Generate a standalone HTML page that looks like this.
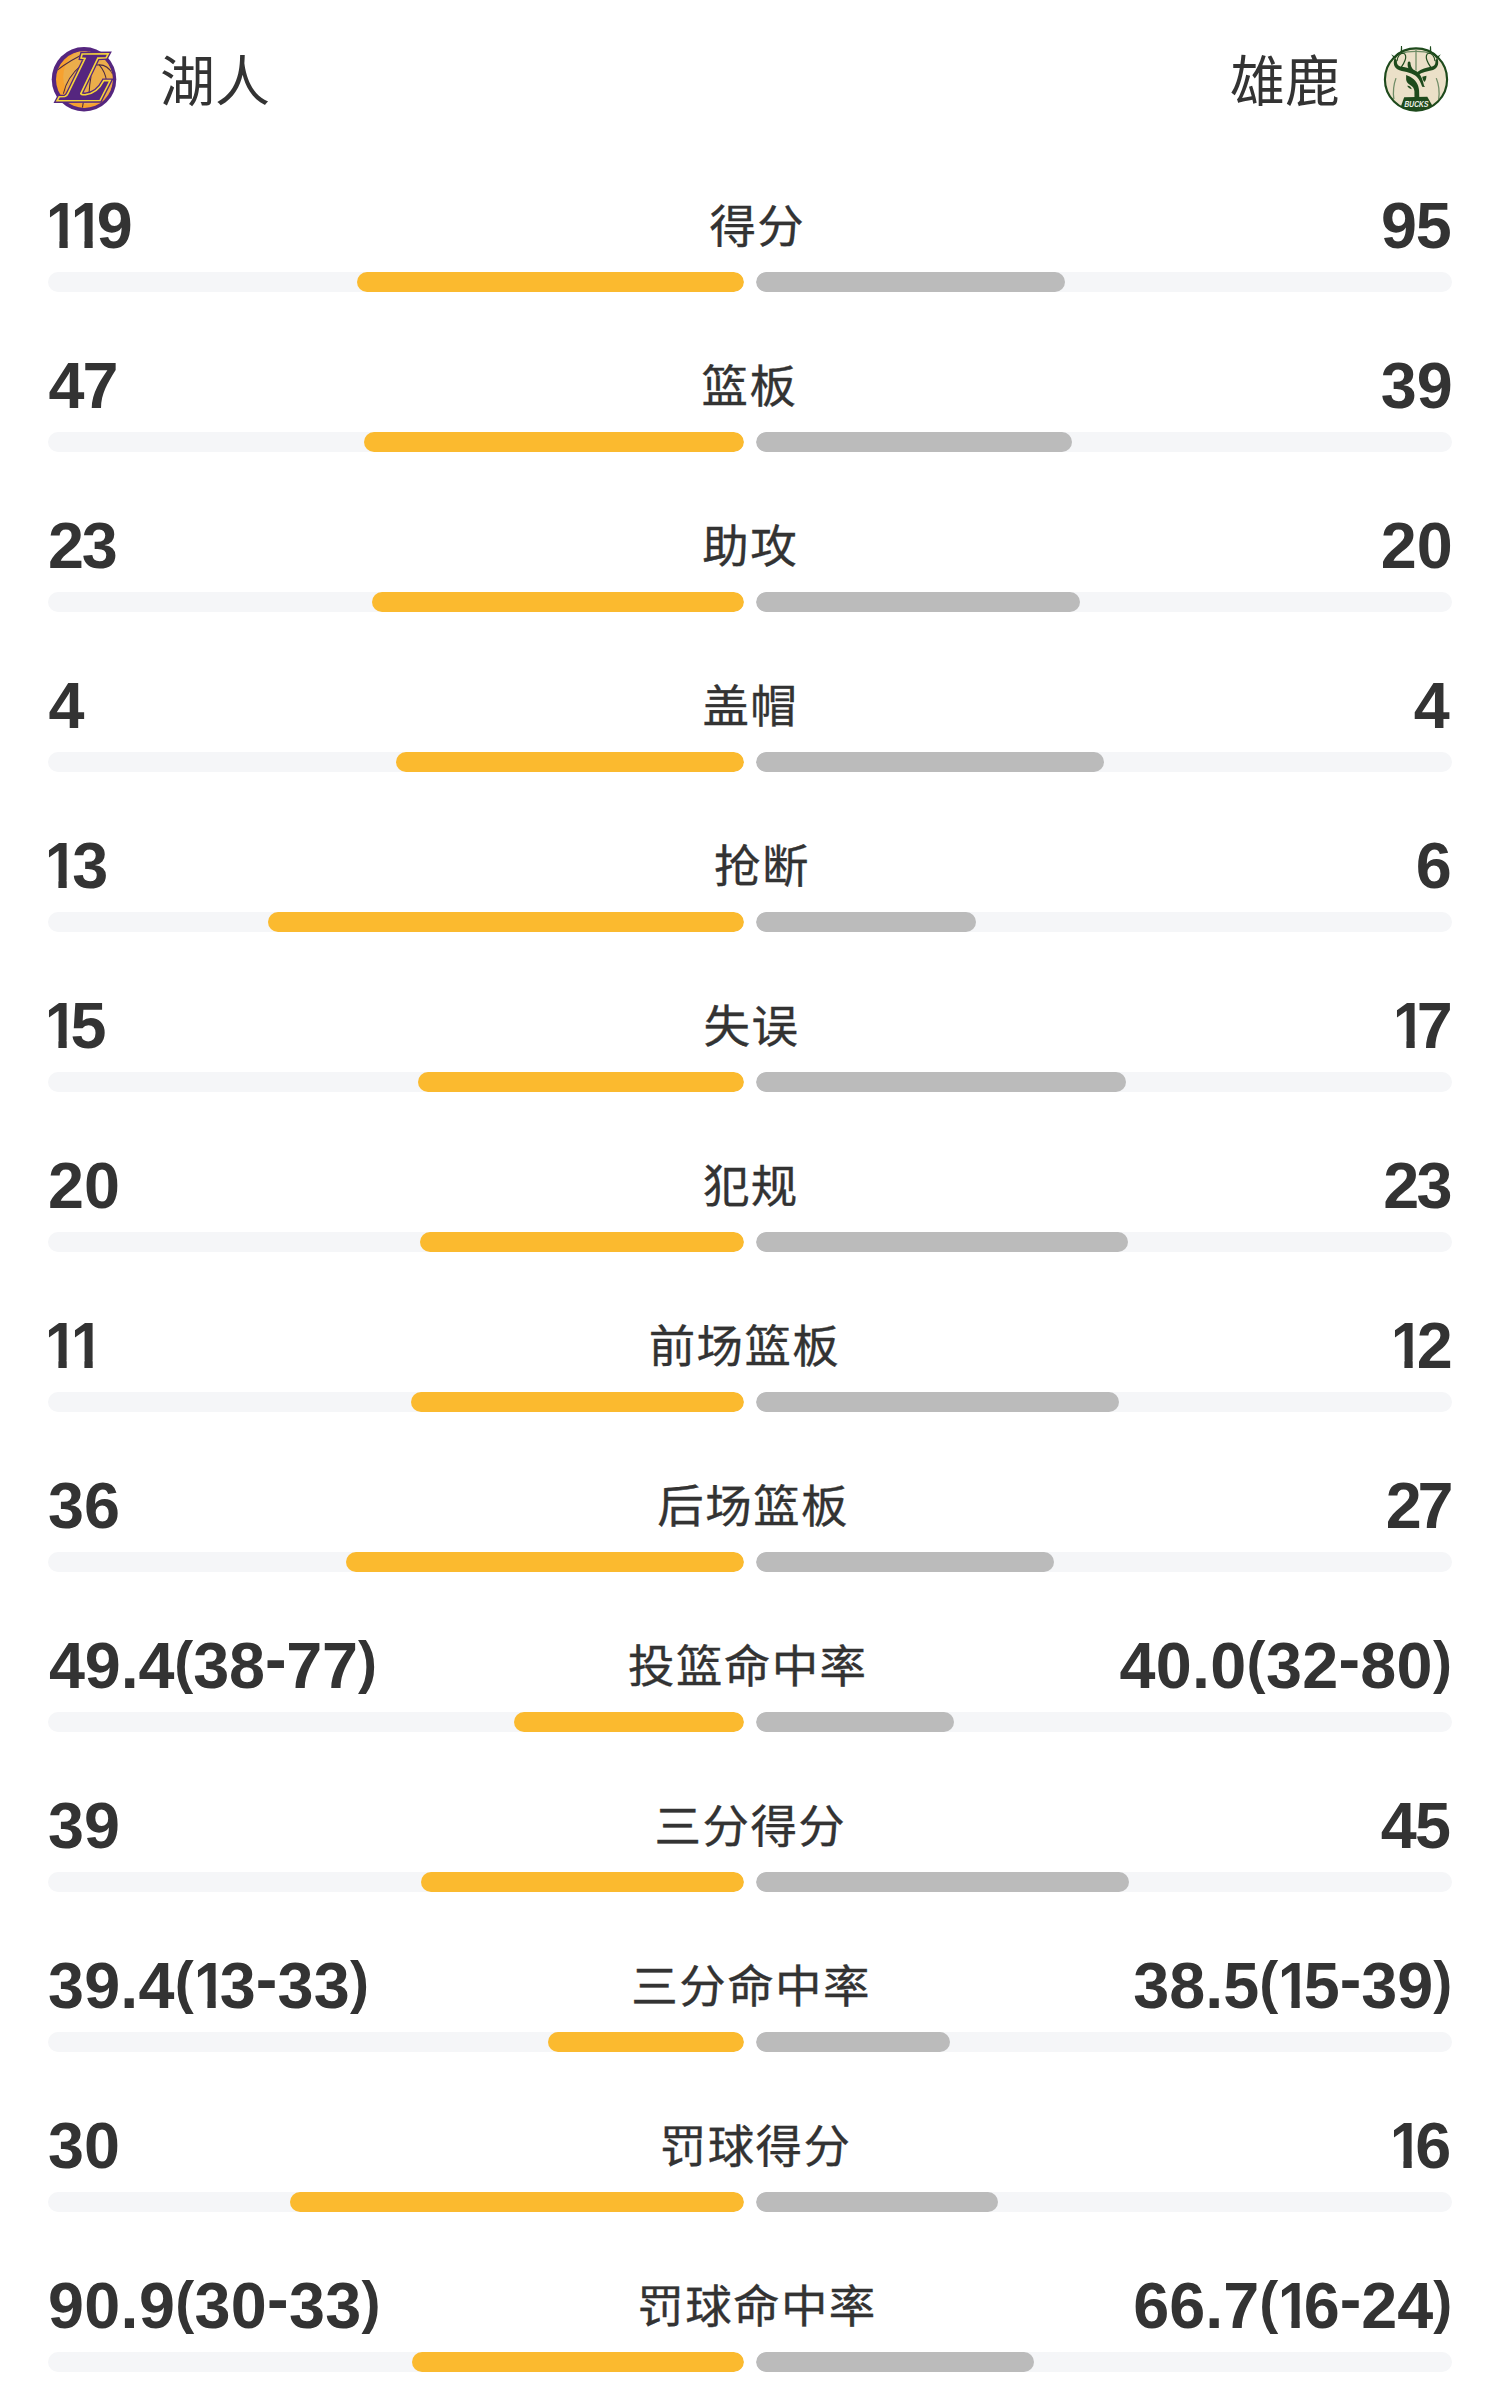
<!DOCTYPE html>
<html lang="zh-CN"><head><meta charset="utf-8"><title>技术统计</title>
<style>
html,body{margin:0;padding:0;background:#fff;}
body{width:1500px;height:2400px;position:relative;overflow:hidden;color:#333;}
.cjk{font-family:'Liberation Sans','Noto Sans CJK SC',sans-serif;}
.team{position:absolute;top:41.5px;font-family:'Liberation Sans','Noto Sans CJK SC',sans-serif;font-size:55px;line-height:80px;height:80px;color:#333;white-space:nowrap;}
.logo{position:absolute;top:40px;width:80px;height:80px;}
.row{position:absolute;left:0;width:1500px;height:160px;}
.nl,.nr{position:absolute;top:190px;height:72px;line-height:72px;font-family:'Liberation Sans',sans-serif;font-weight:700;font-size:64.7px;color:#333;white-space:nowrap;}
.nl{left:48px;}
.nr{right:48px;}
.o{display:inline-block;transform:scaleX(.9);transform-origin:0 0;margin-right:-10.4px;clip-path:polygon(0 0,40px 0,40px 50.5px,24.1px 50.5px,24.1px 72px,14.9px 72px,14.9px 50.5px,0 50.5px);}
.p{font-size:57px;line-height:1;position:relative;top:-6.5px;}
.h{position:relative;top:-7px;}
.lab{position:absolute;top:191px;left:0;width:800px;text-align:center;height:72px;line-height:72px;font-family:'Liberation Sans','Noto Sans CJK SC',sans-serif;font-size:46.5px;letter-spacing:1.4px;-webkit-text-stroke:0.35px #333;color:#333;white-space:nowrap;transform:scaleY(.975);transform-origin:50% 47px;}
.tl,.tr{position:absolute;top:272px;width:696px;height:20px;border-radius:10px;background:#f5f6f8;overflow:hidden;}
.tl{left:48px;}
.tr{left:756px;}
.fy{position:absolute;right:0;top:0;height:20px;border-radius:10px;background:#fbba2f;}
.fg{position:absolute;left:0;top:0;height:20px;border-radius:10px;background:#bbbbbb;}
</style></head>
<body>
<div class="logo" style="left:44px"><svg viewBox="0 0 1500 1500" width="80" height="80">
<defs><clipPath id="lkb"><circle cx="757" cy="742" r="532"/></clipPath></defs>
<circle cx="750" cy="737" r="605" fill="#55267f"/>
<circle cx="757" cy="742" r="532" fill="#f7a12f"/>
<g clip-path="url(#lkb)">
<ellipse cx="830" cy="690" rx="470" ry="520" fill="#ecad4b"/>
<g fill="none" stroke="#4b2a45" stroke-width="20" stroke-linecap="round">
<path d="M250 565 Q 480 380 840 215"/>
<path d="M365 1000 Q 430 700 700 470"/>
<path d="M990 470 Q 1180 440 1290 640"/>
<path d="M1040 470 Q 1150 600 1170 760"/>
<path d="M880 690 Q 850 850 845 1000"/>
<path d="M735 1180 L 722 1260"/>
</g>
</g>
<path d="M715 262 L1205 258 L1165 332 L1010 340 L690 1005 Q700 1030 780 1025 Q1000 1000 1120 762 L1240 762 L1050 1135 L245 1140 L285 1065 L390 1060 Q430 1050 450 1000 L770 345 L695 340 Z" fill="#55267f" stroke="#55267f" stroke-width="80" stroke-linejoin="miter"/>
<path d="M715 262 L1205 258 L1165 332 L1010 340 L690 1005 Q700 1030 780 1025 Q1000 1000 1120 762 L1240 762 L1050 1135 L245 1140 L285 1065 L390 1060 Q430 1050 450 1000 L770 345 L695 340 Z" fill="none" stroke="#f5d53a" stroke-width="30" stroke-linejoin="miter"/>
</svg>
</div>
<div class="team" style="left:160px">湖人</div>
<div class="team" style="right:160px">雄鹿</div>
<div class="logo" style="left:1376px"><svg viewBox="0 0 1500 1500" width="80" height="80">
<circle cx="750" cy="740" r="583" fill="#ebe0c8" stroke="#1e4a1c" stroke-width="40"/>
<g fill="none" stroke="#6f8c66" stroke-width="24">
<path d="M430 260 Q 750 170 1070 260"/>
<path d="M750 170 L 750 570"/>
<path d="M375 715 Q 305 900 335 1110"/>
<path d="M1130 715 Q 1205 900 1175 1110"/>
</g>
<g fill="#1e4a1c">
<path d="M468 112 L 488 112 L 494 235 L 462 235 Z"/>
<path d="M1012 118 L 1032 118 L 1038 235 L 1006 235 Z"/>
<path d="M285 268 L 345 305 L 360 345 L 320 320 Z"/>
<path d="M1215 268 L 1155 305 L 1140 345 L 1180 320 Z"/>
<path d="M330 335 C 380 260 430 225 490 205 L 500 235 C 440 255 400 290 370 345 Z"/>
<path d="M1170 335 C 1120 260 1070 225 1010 205 L 1000 235 C 1060 255 1100 290 1130 345 Z"/>
<path d="M352 330 C 318 420 322 530 440 568 C 560 602 690 618 768 692 C 818 742 843 812 866 878 L 918 882 L 900 852 C 880 760 850 680 800 620 C 720 545 580 518 482 503 C 412 492 387 452 392 390 Z"/>
<path d="M1148 330 C 1182 420 1178 525 1070 562 C 960 592 860 602 790 655 L 770 605 C 850 540 950 520 1030 503 C 1100 488 1120 455 1113 390 Z"/>
<path d="M596 420 C 582 505 612 565 690 610 L 745 645 L 765 600 C 705 565 655 528 645 420 C 640 400 600 400 596 420 Z"/>
<path d="M565 655 L 640 688 C 740 740 800 830 808 950 L 812 1092 L 722 1092 L 720 960 C 715 900 690 870 640 842 C 592 812 568 780 565 740 Z"/>
<path d="M585 858 C 622 850 660 880 672 925 C 630 915 600 895 585 858 Z"/>
<path d="M868 690 L 945 668 C 947 720 932 762 905 788 C 884 760 870 730 868 690 Z"/>
<path d="M528 1072 L 962 1066 L 1055 1230 C 960 1290 860 1316 750 1316 C 640 1316 540 1292 465 1250 Z"/>
</g>
<g fill="none" stroke="#1e4a1c" stroke-width="22" stroke-linecap="round">
<path d="M395 385 C 410 300 455 245 515 248 C 560 262 568 318 545 380 C 528 425 505 468 478 505"/>
<path d="M1105 385 C 1090 300 1045 245 985 248 C 940 262 932 318 955 380 C 972 425 995 468 1022 505"/>
</g>
<text x="752" y="1252" text-anchor="middle" font-family="'Liberation Sans',sans-serif" font-weight="700" font-size="165" fill="#eef1ea" transform="skewX(-10) translate(218 0)" textLength="450" lengthAdjust="spacingAndGlyphs">BUCKS</text>
</svg>
</div>
<div class="row" style="top:0px">
<div class="nl" style="left:45.50px;"><span class="o">1</span><span class="o">1</span>9</div><div class="lab" style="left:357.35px">得分</div><div class="nr" style="right:49.40px;letter-spacing:-1.20px;">95</div>
<div class="tl"><div class="fy" style="width:387.0px"></div></div>
<div class="tr"><div class="fg" style="width:309.0px"></div></div>
</div>
<div class="row" style="top:160px">
<div class="nl" style="left:48.50px;letter-spacing:-2.10px;">47</div><div class="lab" style="left:349.50px">篮板</div><div class="nr" style="right:47.40px;">39</div>
<div class="tl"><div class="fy" style="width:380.4px"></div></div>
<div class="tr"><div class="fg" style="width:315.6px"></div></div>
</div>
<div class="row" style="top:320px">
<div class="nl" style="left:48.10px;letter-spacing:-2.30px;">23</div><div class="lab" style="left:350.15px">助攻</div><div class="nr" style="right:47.40px;">20</div>
<div class="tl"><div class="fy" style="width:372.3px"></div></div>
<div class="tr"><div class="fg" style="width:323.7px"></div></div>
</div>
<div class="row" style="top:480px">
<div class="nl" style="left:48.50px;">4</div><div class="lab" style="left:350.30px">盖帽</div><div class="nr" style="right:50.40px;">4</div>
<div class="tl"><div class="fy" style="width:348.0px"></div></div>
<div class="tr"><div class="fg" style="width:348.0px"></div></div>
</div>
<div class="row" style="top:640px">
<div class="nl" style="left:45.00px;letter-spacing:1.70px;"><span class="o">1</span>3</div><div class="lab" style="left:362.00px">抢断</div><div class="nr" style="right:48.40px;">6</div>
<div class="tl"><div class="fy" style="width:476.2px"></div></div>
<div class="tr"><div class="fg" style="width:219.8px"></div></div>
</div>
<div class="row" style="top:800px">
<div class="nl" style="left:45.00px;"><span class="o">1</span>5</div><div class="lab" style="left:351.45px">失误</div><div class="nr" style="right:48.70px;letter-spacing:-1.50px;"><span class="o">1</span>7</div>
<div class="tl"><div class="fy" style="width:326.2px"></div></div>
<div class="tr"><div class="fg" style="width:369.8px"></div></div>
</div>
<div class="row" style="top:960px">
<div class="nl" style="left:48.10px;">20</div><div class="lab" style="left:350.85px">犯规</div><div class="nr" style="right:50.40px;letter-spacing:-2.80px;">23</div>
<div class="tl"><div class="fy" style="width:323.7px"></div></div>
<div class="tr"><div class="fg" style="width:372.3px"></div></div>
</div>
<div class="row" style="top:1120px">
<div class="nl" style="left:45.00px;"><span class="o">1</span><span class="o">1</span></div><div class="lab" style="left:344.45px">前场篮板</div><div class="nr" style="right:47.40px;"><span class="o">1</span>2</div>
<div class="tl"><div class="fy" style="width:332.9px"></div></div>
<div class="tr"><div class="fg" style="width:363.1px"></div></div>
</div>
<div class="row" style="top:1280px">
<div class="nl" style="left:48.00px;">36</div><div class="lab" style="left:353.15px">后场篮板</div><div class="nr" style="right:50.60px;letter-spacing:-4.10px;">27</div>
<div class="tl"><div class="fy" style="width:397.7px"></div></div>
<div class="tr"><div class="fg" style="width:298.3px"></div></div>
</div>
<div class="row" style="top:1440px">
<div class="nl" style="left:49.00px;letter-spacing:-0.14px;">49.4<span class="p">(</span>38<span class="h">-</span>77<span class="p">)</span></div><div class="lab" style="left:347.75px">投篮命中率</div><div class="nr" style="right:47.80px;letter-spacing:0.31px;">40.0<span class="p">(</span>32<span class="h">-</span>80<span class="p">)</span></div>
<div class="tl"><div class="fy" style="width:230.0px"></div></div>
<div class="tr"><div class="fg" style="width:198.0px"></div></div>
</div>
<div class="row" style="top:1600px">
<div class="nl" style="left:48.00px;">39</div><div class="lab" style="left:350.40px">三分得分</div><div class="nr" style="right:50.80px;letter-spacing:-1.80px;">45</div>
<div class="tl"><div class="fy" style="width:323.1px"></div></div>
<div class="tr"><div class="fg" style="width:372.9px"></div></div>
</div>
<div class="row" style="top:1760px">
<div class="nl" style="left:48.00px;letter-spacing:0.19px;">39.4<span class="p">(</span><span class="o">1</span>3<span class="h">-</span>33<span class="p">)</span></div><div class="lab" style="left:351.10px">三分命中率</div><div class="nr" style="right:47.80px;">38.5<span class="p">(</span><span class="o">1</span>5<span class="h">-</span>39<span class="p">)</span></div>
<div class="tl"><div class="fy" style="width:196.0px"></div></div>
<div class="tr"><div class="fg" style="width:194.0px"></div></div>
</div>
<div class="row" style="top:1920px">
<div class="nl" style="left:48.00px;">30</div><div class="lab" style="left:355.55px">罚球得分</div><div class="nr" style="right:48.80px;"><span class="o">1</span>6</div>
<div class="tl"><div class="fy" style="width:453.9px"></div></div>
<div class="tr"><div class="fg" style="width:242.1px"></div></div>
</div>
<div class="row" style="top:2080px">
<div class="nl" style="left:48.00px;letter-spacing:0.32px;">90.9<span class="p">(</span>30<span class="h">-</span>33<span class="p">)</span></div><div class="lab" style="left:357.00px">罚球命中率</div><div class="nr" style="right:47.80px;">66.7<span class="p">(</span><span class="o">1</span>6<span class="h">-</span>24<span class="p">)</span></div>
<div class="tl"><div class="fy" style="width:332.0px"></div></div>
<div class="tr"><div class="fg" style="width:278.0px"></div></div>
</div>
</body></html>
